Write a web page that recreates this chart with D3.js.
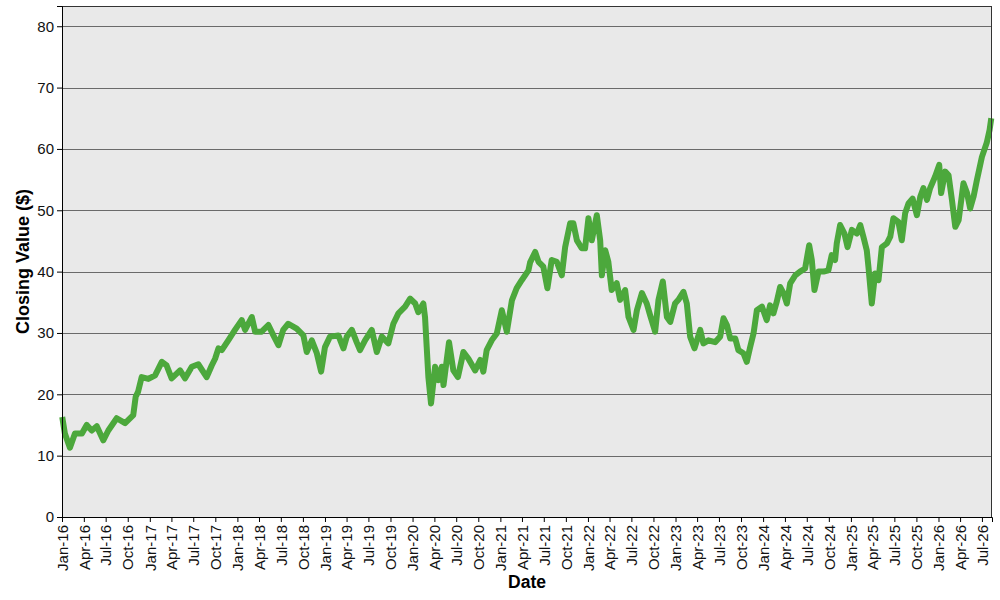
<!DOCTYPE html>
<html>
<head>
<meta charset="utf-8">
<script src="https://cdn.jsdelivr.net/npm/d3@7"></script>
<style>
  body { margin: 0; background: #ffffff; }
  text { font-family: "Liberation Sans", Arial, sans-serif; }
</style>
</head>
<body>
<div id="container"></div>
<script>
let w = 1000;
let h = 600;
let margin = {top: 6, right: 8, bottom: 83, left: 62};

// closing values
let dates = [
  "2016-01-02","2016-01-13","2016-02-03","2016-02-24","2016-03-24","2016-04-13","2016-05-04","2016-05-25",
  "2016-06-21","2016-07-12","2016-08-16","2016-09-20","2016-10-24","2016-11-03","2016-11-13","2016-11-28",
  "2016-12-26","2017-01-23","2017-02-20","2017-03-12","2017-04-02","2017-05-07","2017-05-28","2017-06-25",
  "2017-07-22","2017-08-26","2017-09-16","2017-09-30","2017-10-14","2017-10-28","2017-11-24","2017-12-22",
  "2018-01-19","2018-02-02","2018-03-02","2018-03-16","2018-04-12","2018-05-10","2018-05-31","2018-06-21",
  "2018-07-11","2018-08-01","2018-09-05","2018-10-03","2018-10-17","2018-11-07","2018-11-28","2018-12-16",
  "2019-01-01","2019-01-22","2019-02-26","2019-03-19","2019-04-02","2019-04-23","2019-05-13","2019-05-27",
  "2019-06-17","2019-07-15","2019-08-05","2019-08-26","2019-09-22","2019-10-13","2019-11-03","2019-12-01",
  "2019-12-22","2020-01-12","2020-01-25","2020-02-15","2020-02-22","2020-02-29","2020-03-07","2020-03-18",
  "2020-04-04","2020-04-18","2020-05-02","2020-05-09","2020-06-01","2020-06-19","2020-07-08","2020-07-31",
  "2020-08-21","2020-09-18","2020-10-09","2020-10-22","2020-11-05","2020-11-26","2020-12-17","2021-01-07",
  "2021-01-28","2021-02-18","2021-03-10","2021-03-31","2021-04-28","2021-05-05","2021-05-26","2021-06-09",
  "2021-06-29","2021-07-16","2021-08-03","2021-08-24","2021-09-14","2021-09-28","2021-10-19","2021-11-01",
  "2021-11-16","2021-12-06","2021-12-20","2022-01-03","2022-01-17","2022-02-07","2022-02-21","2022-02-28",
  "2022-03-14","2022-03-27","2022-04-10","2022-05-01","2022-05-15","2022-06-05","2022-06-19","2022-07-10",
  "2022-07-24","2022-08-14","2022-09-03","2022-09-17","2022-10-08","2022-10-22","2022-11-09","2022-11-26",
  "2022-12-10","2022-12-30","2023-01-13","2023-02-03","2023-02-17","2023-03-03","2023-03-21","2023-04-14",
  "2023-04-27","2023-05-18","2023-06-15","2023-07-06","2023-07-20","2023-08-03","2023-08-17","2023-09-07",
  "2023-09-20","2023-10-11","2023-10-25","2023-11-08","2023-11-22","2023-12-06","2023-12-27","2024-01-16",
  "2024-01-30","2024-02-13","2024-02-27","2024-03-12","2024-03-26","2024-04-09","2024-04-23","2024-05-14",
  "2024-06-03","2024-06-24","2024-07-11","2024-07-22","2024-08-02","2024-08-19","2024-09-09","2024-09-29",
  "2024-10-13","2024-10-27","2024-11-03","2024-11-17","2024-12-05","2024-12-18","2025-01-05","2025-01-26",
  "2025-02-09","2025-02-22","2025-03-08","2025-03-15","2025-03-29","2025-04-12","2025-04-26","2025-05-10",
  "2025-05-31","2025-06-14","2025-06-27","2025-07-18","2025-08-01","2025-08-15","2025-08-29","2025-09-15",
  "2025-10-03","2025-10-17","2025-10-30","2025-11-14","2025-11-27","2025-12-18","2026-01-04","2026-01-12",
  "2026-01-29","2026-02-12","2026-02-26","2026-03-12","2026-03-26","2026-04-15","2026-04-30","2026-05-13",
  "2026-05-27","2026-06-10","2026-07-01","2026-07-21","2026-08-02","2026-08-09"
];
let closes = [
  16.3,13.6,11.3,13.6,13.6,15.0,14.1,14.8,
  12.5,14.1,16.1,15.3,16.6,19.6,20.4,22.8,
  22.5,23.1,25.3,24.7,22.6,23.9,22.6,24.5,
  24.9,22.8,24.7,25.8,27.5,27.2,28.8,30.5,
  32.1,30.5,32.6,30.2,30.2,31.3,29.6,28.0,
  30.5,31.5,30.7,29.6,26.9,28.8,26.7,23.7,
  27.7,29.4,29.6,27.5,29.4,30.5,28.5,27.2,
  28.8,30.5,26.9,29.4,28.3,31.5,33.2,34.3,
  35.6,34.8,33.4,34.8,32.6,27.7,22.8,18.5,
  24.5,22.3,24.5,21.5,28.5,23.9,22.8,26.9,
  25.8,23.9,25.6,23.7,27.2,28.8,29.9,33.7,
  30.2,35.3,37.3,38.6,40.2,41.5,43.2,41.6,
  40.8,37.3,41.9,41.6,39.4,44.0,47.9,47.9,
  45.1,43.8,43.8,48.7,45.1,49.2,45.1,39.4,
  43.5,41.6,37.0,38.1,35.4,37.0,32.6,30.5,
  33.7,36.5,34.8,32.9,30.2,35.4,38.4,32.6,
  31.8,34.8,35.4,36.7,34.8,29.4,27.5,30.5,
  28.3,28.8,28.5,29.4,32.4,31.3,29.1,29.1,
  27.2,26.7,25.3,27.7,29.9,33.7,34.3,32.1,
  34.5,33.2,35.1,37.5,36.5,34.8,38.1,39.4,
  40.0,40.5,44.3,41.9,37.0,40.0,40.0,40.2,
  42.7,41.9,44.6,47.6,46.2,44.0,46.8,46.2,
  47.6,45.7,43.5,40.8,34.8,39.7,38.6,44.0,
  44.6,45.7,48.7,48.1,45.1,49.5,51.1,51.9,
  49.2,52.2,53.6,51.7,53.6,55.5,57.4,52.8,
  56.3,55.7,51.7,47.3,48.4,54.4,52.8,50.3,
  52.2,54.9,58.7,61.0,63.1,65.0
];
let yTicks = [0, 10, 20, 30, 40, 50, 60, 70, 80];

let parseDate = d3.timeParse("%Y-%m-%d");
let data = dates.map((d, i) => ({date: parseDate(d), close: closes[i]}));

let viz = d3.select("#container")
              .append("svg")
                .attr("width", w)
                .attr("height", h)
                .style("background-color", "#ffffff")
;

let innerW = w - margin.left - margin.right;
let innerH = h - margin.top - margin.bottom;

let xScale = d3.scaleTime()
                 .domain([parseDate("2016-01-01"), parseDate("2026-08-12")])
                 .range([margin.left, margin.left + innerW]);
let yScale = d3.scaleLinear()
                 .domain([0, 83.3])
                 .range([margin.top + innerH, margin.top]);

//plot background
viz.append("rect")
     .attr("x", margin.left)
     .attr("y", margin.top)
     .attr("width", innerW)
     .attr("height", innerH)
     .attr("fill", "#e9e9e9")
;

//gridlines
viz.append("g")
     .selectAll("line")
     .data(yTicks.filter(d => d > 0))
     .enter()
     .append("line")
       .attr("x1", margin.left)
       .attr("x2", margin.left + innerW)
       .attr("y1", d => Math.round(yScale(d)) + 0.5)
       .attr("y2", d => Math.round(yScale(d)) + 0.5)
       .attr("stroke", "#6a6a6a")
       .attr("stroke-width", 1)
;

//the line
let lineMaker = d3.line()
                    .x(d => xScale(d.date))
                    .y(d => yScale(d.close));

viz.append("path")
     .datum(data)
     .attr("d", lineMaker)
     .attr("fill", "none")
     .attr("stroke", "#4ca83c")
     .attr("stroke-width", 6)
     .attr("stroke-linejoin", "round")
;

//frame
viz.append("rect")
     .attr("x", margin.left + 0.5)
     .attr("y", margin.top + 0.5)
     .attr("width", innerW - 1)
     .attr("height", innerH)
     .attr("fill", "none")
     .attr("stroke", "#333333")
     .attr("stroke-width", 1)
;

//x axis
let xAxis = d3.axisBottom(xScale)
                .ticks(d3.timeMonth.every(3))
                .tickFormat(d3.timeFormat("%b-%y"))
                .tickSize(5);

let xAxisGroup = viz.append("g")
                      .attr("transform", "translate(0," + (margin.top + innerH) + ")")
                      .call(xAxis);
xAxisGroup.select(".domain").attr("stroke", "#000000");
xAxisGroup.selectAll(".tick line").attr("stroke", "#000000");
xAxisGroup.selectAll("text")
            .attr("transform", "rotate(-90)")
            .attr("x", -8)
            .attr("y", 0)
            .attr("dy", "0.35em")
            .style("text-anchor", "end")
            .style("font-size", "15px")
            .attr("fill", "#111111")
;

//y axis
let yAxis = d3.axisLeft(yScale)
                .tickValues(yTicks)
                .tickSize(5)
                .tickPadding(3);

let yAxisGroup = viz.append("g")
                      .attr("transform", "translate(" + margin.left + ",0)")
                      .call(yAxis);
yAxisGroup.select(".domain").attr("stroke", "#000000");
yAxisGroup.selectAll(".tick line").attr("stroke", "#000000");
yAxisGroup.selectAll("text")
            .style("font-size", "15px")
            .attr("fill", "#111111")
;

//axis titles
viz.append("text")
     .text("Date")
     .attr("x", margin.left + innerW / 2)
     .attr("y", 588)
     .attr("text-anchor", "middle")
     .style("font-size", "17.5px")
     .style("font-weight", "bold")
;
viz.append("text")
     .text("Closing Value ($)")
     .attr("transform", "translate(28.5," + (margin.top + innerH / 2) + ") rotate(-90)")
     .attr("text-anchor", "middle")
     .style("font-size", "18px")
     .style("font-weight", "bold")
;
</script>
</body>
</html>
